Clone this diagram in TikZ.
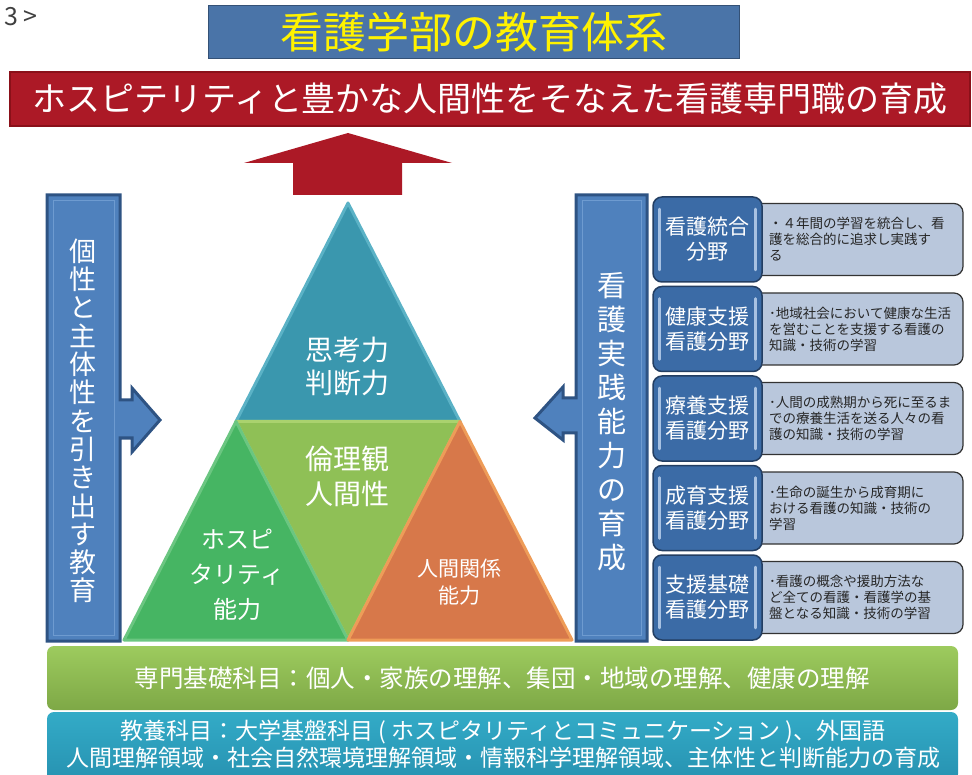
\documentclass[tikz,border=0pt]{standalone}
\usepackage{fontspec}
\setmainfont{Noto Sans CJK JP}
\usetikzlibrary{calc}

\definecolor{titleblue}{HTML}{4A74A8}
\definecolor{titleyellow}{HTML}{FFF200}
\definecolor{bannerred}{HTML}{AC1926}
\definecolor{bannerdark}{HTML}{8A1019}
\definecolor{bardark}{HTML}{2E5383}
\definecolor{barblue}{HTML}{4F81BD}
\definecolor{barlight}{HTML}{6E9BD0}
\definecolor{triteal}{HTML}{3A97AE}
\definecolor{tritealedge}{HTML}{5BB2C6}
\definecolor{trilime}{HTML}{8FC056}
\definecolor{trilimeedge}{HTML}{AAD26E}
\definecolor{trigreen}{HTML}{46B563}
\definecolor{trigreenedge}{HTML}{6BC681}
\definecolor{triorange}{HTML}{D7784A}
\definecolor{triorangeedge}{HTML}{EE9C58}
\definecolor{fieldblue}{HTML}{3B6BA6}
\definecolor{fielddark}{HTML}{233E62}
\definecolor{fieldlight}{HTML}{A7C1E2}
\definecolor{descgray}{HTML}{B9C7DC}
\definecolor{basegreentop}{HTML}{9DCB5E}
\definecolor{basegreenbot}{HTML}{7EA846}
\definecolor{basetealtop}{HTML}{33ABC7}
\definecolor{basetealbot}{HTML}{2792B1}

\tikzset{
	tri/.style={line width=3pt, line join=round},
	trilabel/.style={text=white, align=center},
	sidebar/.style={fill=barblue, draw=bardark, line width=3pt, line join=miter},
	vtext/.style={text=white, align=center},
	fieldbox/.style={rounded corners=9pt, fill=fieldblue, draw=fielddark, line width=1.5pt},
	fieldlabel/.style={text=white, align=center, font=\fontsize{21}{25}\selectfont},
	descbox/.style={rounded corners=9pt, fill=descgray, draw=black!80, line width=1.2pt},
	desclabel/.style={text=black!85, align=left, inner sep=0pt, font=\fontsize{13.5}{16}\selectfont},
}

\begin{document}
\begin{tikzpicture}[x=1pt,y=-1pt]
	\useasboundingbox (0,0) rectangle (972,775);

	\pgfmathsetmacro{\barT}{195}		%top of the side bars
	\pgfmathsetmacro{\barB}{641}		%bottom of the side bars
	\pgfmathsetmacro{\pitch}{89.5}		%distance between the field rows

	%page number
	\node[anchor=west, inner sep=0pt, text=black!75, font=\fontsize{25}{28}\selectfont] (pageno) at (4,17) {3 >};

	%title and banner
	\node[fill=titleblue, draw=titleblue!70!black, line width=1pt, minimum width=531, minimum height=53,
		text=titleyellow, font=\fontsize{43}{48}\selectfont] (title) at (473.5,32.5) {看護学部の教育体系};
	\node[fill=bannerred, draw=bannerdark, line width=1.2pt, minimum width=960, minimum height=54,
		text=white, font=\fontsize{34}{40}\selectfont] (goal) at (490,99) {ホスピテリティと豊かな人間性をそなえた看護専門職の育成};

	%arrow up to the banner
	\fill[bannerred] (293,195) -- (293,163) -- (244,163) -- (348,133) -- (452,163) -- (402,163) -- (402,195) -- cycle;

	%left bar with arrow
	\draw[sidebar] (47,\barT) -- (120,\barT) -- (120,400) -- (132,400) -- (132,388) -- (160,420)
		-- (132,452) -- (132,438) -- (120,438) -- (120,\barB) -- (47,\barB) -- cycle;
	\draw[barlight, line width=1pt] (53,\barT+6) rectangle (114,\barB-6);
	\node[vtext, font=\fontsize{27}{28.3}\selectfont] (individual) at (83,421)
		{個\\性\\と\\主\\体\\性\\を\\引\\き\\出\\す\\教\\育};

	%right bar with arrow
	\draw[sidebar] (647,\barT) -- (576,\barT) -- (576,398) -- (563,398) -- (563,387) -- (535,418)
		-- (563,440) -- (563,433) -- (576,433) -- (576,\barB) -- (647,\barB) -- cycle;
	\draw[barlight, line width=1pt] (582,\barT+6) rectangle (641,\barB-6);
	\node[vtext, font=\fontsize{29}{34}\selectfont] (practice) at (612,422)
		{看\\護\\実\\践\\能\\力\\の\\育\\成};

	%triangle corners
	\coordinate (apex) at (348,203);
	\coordinate (bl) at (124,640);
	\coordinate (br) at (572,640);
	\coordinate (ml) at ($(apex)!0.5!(bl)$);
	\coordinate (mr) at ($(apex)!0.5!(br)$);
	\coordinate (mb) at ($(bl)!0.5!(br)$);

	\filldraw[tri, fill=triteal, draw=tritealedge] (apex) -- (ml) -- (mr) -- cycle;
	\filldraw[tri, fill=trilime, draw=trilimeedge] (ml) -- (mr) -- (mb) -- cycle;
	\filldraw[tri, fill=trigreen, draw=trigreenedge] (ml) -- (mb) -- (bl) -- cycle;
	\filldraw[tri, fill=triorange, draw=triorangeedge] (mr) -- (br) -- (mb) -- cycle;

	\node[trilabel, font=\fontsize{28}{33}\selectfont] (thinking) at (347,366) {思考力\\判断力};
	\node[trilabel, font=\fontsize{28}{35}\selectfont] (ethics) at (347,476) {倫理観\\人間性};
	\node[trilabel, font=\fontsize{24}{35}\selectfont] (hospitality) at (237,575) {ホスピ\\タリティ\\能力};
	\node[trilabel, font=\fontsize{21}{27}\selectfont] (relation) at (459,582) {人間関係\\能力};

	%nursing fields
	\foreach \field/\desc [count=\i] in {
		{看護統合\\分野}/{・４年間の学習を統合し、看\\護を総合的に追求し実践す\\る},
		{健康支援\\看護分野}/{･地域社会において健康な生活\\を営むことを支援する看護の\\知識・技術の学習},
		{療養支援\\看護分野}/{･人間の成熟期から死に至るま\\での療養生活を送る人々の看\\護の知識・技術の学習},
		{成育支援\\看護分野}/{･生命の誕生から成育期に\\おける看護の知識・技術の\\学習},
		{支援基礎\\看護分野}/{･看護の概念や援助方法な\\ど全ての看護・看護学の基\\盤となる知識・技術の学習}}
	{
		\pgfmathsetmacro{\rowtop}{197+(\i-1)*\pitch}
		\pgfmathsetmacro{\rowmid}{\rowtop+42.5}
		\draw[descbox] (740,\rowtop+6.5) rectangle (963,\rowtop+78.5);
		\draw[fieldbox] (653,\rowtop) rectangle (762,\rowtop+85);
		\draw[fieldlight, line width=2.5pt, line cap=round] (659.5,\rowtop+12) -- (659.5,\rowtop+73);
		\draw[fieldlight, line width=2.5pt, line cap=round] (755.5,\rowtop+12) -- (755.5,\rowtop+73);
		\node[fieldlabel] (field\i) at (707.5,\rowmid) {\field};
		\node[desclabel, anchor=west] (desc\i) at (769,\rowmid) {\desc};
	}

	%foundation subjects
	\shade[rounded corners=7pt, top color=basegreentop, bottom color=basegreenbot] (47,646) rectangle (958,710);
	\node[text=white, font=\fontsize{24.5}{28}\selectfont] (specialty) at (502,678)
		{専門基礎科目：個人・家族の理解、集団・地域の理解、健康の理解};
	\shade[rounded corners=7pt, top color=basetealtop, bottom color=basetealbot] (47,712) rectangle (958,781);
	\node[text=white, align=center, font=\fontsize{23}{27}\selectfont] (liberal) at (503,744)
		{教養科目：大学基盤科目 ( ホスピタリティとコミュニケーション )、外国語\\
		人間理解領域・社会自然環境理解領域・情報科学理解領域、主体性と判断能力の育成};

\end{tikzpicture}
\end{document}
